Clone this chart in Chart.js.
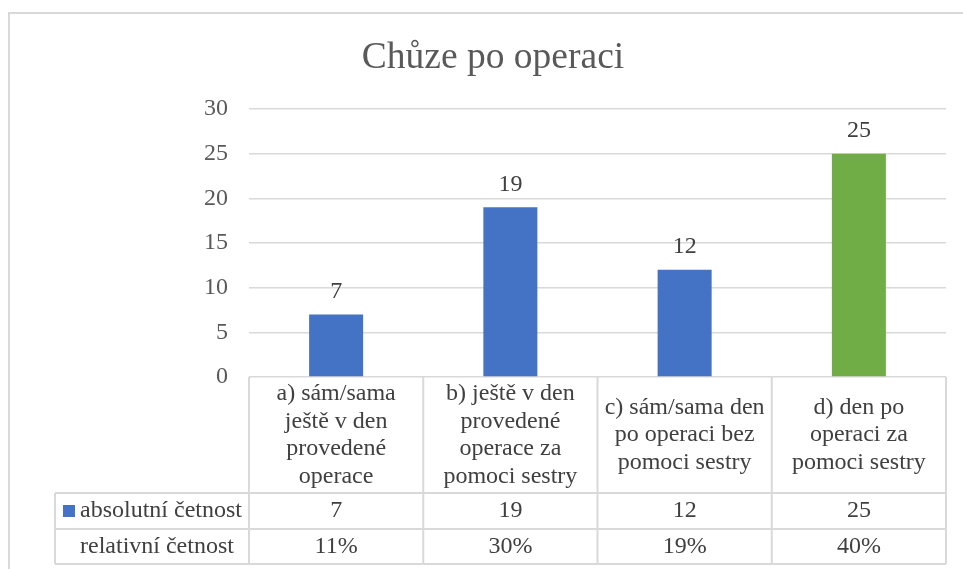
<!DOCTYPE html>
<html>
<head>
<meta charset="utf-8">
<script src="https://cdn.jsdelivr.net/npm/chart.js@4"></script>
<style>
  html, body { margin: 0; padding: 0; background: #fff; }
  #graf { display: block; }
</style>
</head>
<body>
<canvas id="graf" width="963" height="569"></canvas>
<script>
// data
const categories = [
  ['a) sám/sama', 'ještě v den', 'provedené', 'operace'],
  ['b) ještě v den', 'provedené', 'operace za', 'pomoci sestry'],
  ['c) sám/sama den', 'po operaci bez', 'pomoci sestry'],
  ['d) den po', 'operaci za', 'pomoci sestry']
];
const absolutni = [7, 19, 12, 25];
const relativni = [11, 30, 19, 40];
const barColors = ['#4472C4', '#4472C4', '#4472C4', '#70AD47'];
const yMin = 0, yMax = 30, yStep = 5;

const FONT = '"Liberation Serif", "Times New Roman", serif';
const GRID = '#D9D9D9';

// outer frame of the chart object
const framePlugin = {
  id: 'frame',
  beforeDraw(chart) {
    const ctx = chart.ctx;
    ctx.save();
    ctx.fillStyle = '#fff';
    ctx.fillRect(0, 0, chart.width, chart.height);
    ctx.strokeStyle = GRID;
    ctx.lineWidth = 2;
    ctx.strokeRect(9, 13, 1000, 600);
    ctx.restore();
  }
};

// value labels above the bars
const valueLabels = {
  id: 'valueLabels',
  afterDatasetsDraw(chart) {
    const ctx = chart.ctx;
    const meta = chart.getDatasetMeta(0);
    ctx.save();
    ctx.font = '24px ' + FONT;
    ctx.fillStyle = '#404040';
    ctx.textAlign = 'center';
    ctx.textBaseline = 'middle';
    meta.data.forEach((bar, i) => {
      ctx.fillText(String(absolutni[i]), bar.x, bar.y - 23);
    });
    ctx.restore();
  }
};

// data table under the plot, aligned with the x scale
const dataTable = {
  id: 'dataTable',
  afterDraw(chart) {
    const ctx = chart.ctx;
    const xs = chart.scales.x;
    const area = chart.chartArea;
    const step = xs.getPixelForValue(1) - xs.getPixelForValue(0);
    const edges = [];
    for (let i = 0; i <= categories.length; i++) {
      edges.push(xs.getPixelForValue(0) - step / 2 + i * step);
    }
    const top = area.bottom;
    const row1 = 493, row2 = 529, bottom = 564, left = 55;

    ctx.save();
    ctx.strokeStyle = GRID;
    ctx.lineWidth = 2;
    ctx.beginPath();
    // vertical lines
    edges.forEach(x => { ctx.moveTo(x, top); ctx.lineTo(x, bottom); });
    ctx.moveTo(left, row1); ctx.lineTo(left, bottom);
    // horizontal lines
    [row1, row2, bottom].forEach(y => { ctx.moveTo(left, y); ctx.lineTo(edges[edges.length - 1], y); });
    ctx.stroke();

    ctx.font = '24px ' + FONT;
    ctx.fillStyle = '#404040';
    ctx.textAlign = 'center';
    ctx.textBaseline = 'middle';
    const lh = 27.5;
    categories.forEach((lines, i) => {
      const cx = xs.getPixelForValue(i);
      const cy = (top + row1) / 2 - (lines.length - 1) * lh / 2;
      lines.forEach((t, j) => ctx.fillText(t, cx, cy + j * lh));
      ctx.fillText(String(absolutni[i]), cx, (row1 + row2) / 2);
      ctx.fillText(relativni[i] + '%', cx, (row2 + bottom) / 2);
    });

    // row headers
    ctx.textAlign = 'left';
    ctx.fillStyle = barColors[0];
    ctx.fillRect(63, 505, 12, 12);
    ctx.fillStyle = '#404040';
    ctx.fillText(chart.data.datasets[0].label, 80, (row1 + row2) / 2);
    ctx.fillText('relativní četnost', 80, (row2 + bottom) / 2);
    ctx.restore();
  }
};

new Chart(document.getElementById('graf'), {
  type: 'bar',
  data: {
    labels: categories,
    datasets: [{
      label: 'absolutní četnost',
      data: absolutni,
      backgroundColor: barColors,
      borderWidth: 0,
      categoryPercentage: 1,
      barPercentage: 0.31
    }]
  },
  options: {
    responsive: false,
    animation: false,
    devicePixelRatio: 1,
    layout: { padding: { left: 40, right: 17, top: 0, bottom: 192 } },
    plugins: {
      legend: { display: false },
      tooltip: { enabled: false },
      title: {
        display: true,
        text: 'Chůze po operaci',
        color: '#595959',
        font: { family: FONT, size: 37.5, weight: 'normal', lineHeight: 1.2 },
        padding: { top: 36, bottom: 28 }
      }
    },
    scales: {
      x: { display: false },
      y: {
        min: yMin,
        max: yMax,
        border: { display: false },
        grid: { color: GRID, lineWidth: 1.5, drawTicks: false },
        ticks: {
          stepSize: yStep,
          padding: 21,
          color: '#595959',
          font: { family: FONT, size: 24 }
        },
        afterFit(scale) { scale.width = 209; }
      }
    }
  },
  plugins: [framePlugin, valueLabels, dataTable]
});
</script>
</body>
</html>
